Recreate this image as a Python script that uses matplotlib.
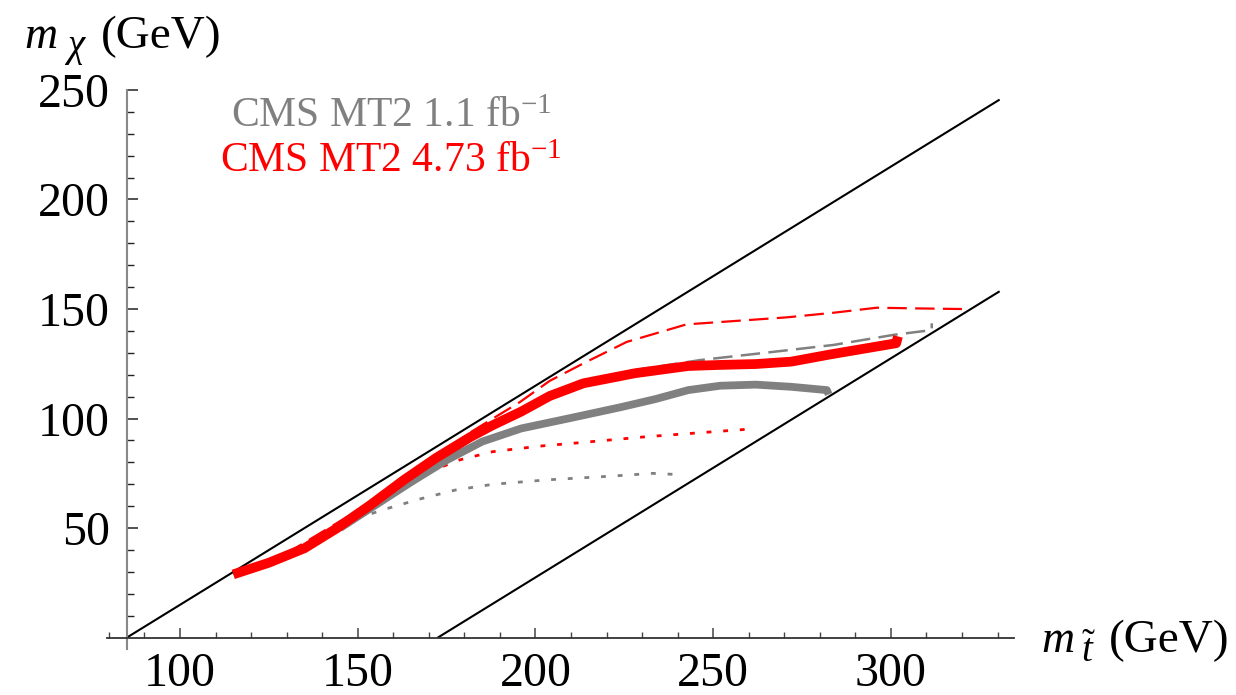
import matplotlib
matplotlib.use('Agg')
import matplotlib.pyplot as plt

plt.rcParams['font.family'] = ['Liberation Serif', 'DejaVu Serif']
plt.rcParams['mathtext.fontset'] = 'custom'
plt.rcParams['mathtext.rm'] = 'Liberation Serif'
plt.rcParams['mathtext.it'] = 'Liberation Serif:italic'
plt.rcParams['lines.scale_dashes'] = False

# ---------------- data ----------------
# CMS MT2 4.73 fb^-1 observed (thick red)
red_obs_x = [115, 125, 135, 144, 153.5, 163, 172, 181.6, 188, 196, 204, 213.5, 228, 243, 252, 262, 272, 283, 301.5, 302]
red_obs_y = [28.9, 34.2, 40.8, 49.8, 60.5, 72, 82, 91.5, 97, 103.2, 110.3, 116.1, 120.7, 124, 124.5, 124.9, 126, 129.3, 134.4, 137.5]
# CMS MT2 4.73 fb^-1 upper band (red dashed)
red_up_x = [115, 130, 150, 165, 175, 181, 188, 195.6, 204, 213.5, 225.7, 242.5, 257.5, 270.7, 283.8, 296, 307, 320]
red_up_y = [29, 38.5, 58, 75, 86, 93, 100, 107.5, 117.2, 125.2, 135, 143, 144.7, 146.2, 148.3, 150.6, 150.3, 150]
# CMS MT2 4.73 fb^-1 lower band (red dotted)
red_dn_x = [125, 145, 160, 169.4, 178.8, 188, 201, 212.5, 231, 250, 259.4]
red_dn_y = [34, 50, 67.5, 75.3, 81.2, 84.9, 87.4, 89, 91.7, 94, 95.1]
# CMS MT2 1.1 fb^-1 observed (thick gray)
gray_obs_x = [145, 155, 165, 175, 185, 196, 210, 224, 234, 243, 252, 262, 272, 282, 282.5]
gray_obs_y = [50, 60.5, 71, 81, 89.5, 95.5, 100.3, 105.2, 109, 113, 115, 115.5, 114.5, 113, 111]
# CMS MT2 1.1 fb^-1 upper band (gray dashed)
gray_up_x = [145, 165, 185, 196, 204, 214, 222, 229.4, 246.3, 265, 283.8, 300.7, 311.5, 311.5]
gray_up_y = [49.5, 72, 93.5, 102.5, 109.5, 115.5, 119.5, 122.5, 126.7, 130.1, 133.6, 138.2, 140.4, 143.5]
# CMS MT2 1.1 fb^-1 lower band (gray dotted)
gray_dn_x = [145, 158, 167.5, 177.5, 188, 203, 222, 233, 239.5]
gray_dn_y = [52, 58.8, 63.3, 67.4, 70, 72, 73.8, 75, 74.5]

# kinematic boundaries m_chi = m_stop - offset
kin_offsets = [85, 172.5]
kin_xmax = 330.6

x_major = [100, 150, 200, 250, 300]
x_minor = [80, 90, 110, 120, 130, 140, 160, 170, 180, 190, 210, 220, 230, 240,
           260, 270, 280, 290, 310, 320, 330]
y_major = [50, 100, 150, 200, 250]
y_minor = [10, 20, 30, 40, 60, 70, 80, 90, 110, 120, 130, 140, 160, 170, 180, 190,
           210, 220, 230, 240]

legend_labels = [r'CMS MT2 1.1 fb$^{-1}$', r'CMS MT2 4.73 fb$^{-1}$']

# ---------------- figure ----------------
W, H = 1236, 695
fig = plt.figure(figsize=(W / 100, H / 100), dpi=100)
ax = fig.add_axes([0, 0, 1, 1])
ax.set_xlim(49.36, 397.1)
ax.set_ylim(-26.16, 291.05)
ax.patch.set_visible(False)

for s in ['top', 'right']:
    ax.spines[s].set_visible(False)
ax.spines['left'].set_position(('data', 85))
ax.spines['bottom'].set_position(('data', 0))
ax.spines['left'].set_bounds(-5, 250)
ax.spines['bottom'].set_bounds(79.5, 334.6)
ax.spines['left'].set_color('#888888')
ax.spines['bottom'].set_color('#333333')
ax.spines['left'].set_linewidth(1.5)
ax.spines['bottom'].set_linewidth(1.3)

ax.set_xticks(x_major, labels=[str(v) for v in x_major])
ax.set_xticks(x_minor, minor=True)
ax.set_yticks(y_major, labels=[str(v) for v in y_major])
ax.set_yticks(y_minor, minor=True)
ax.tick_params(axis='x', which='major', direction='in', length=7.5, width=1.1,
               color='#444444', pad=10, labelsize=34.5)
ax.tick_params(axis='x', which='minor', direction='in', length=4, width=1.0,
               color='#444444')
ax.tick_params(axis='y', which='major', direction='in', length=8, width=1.1,
               color='#222222', pad=12, labelsize=34.5)
ax.tick_params(axis='y', which='minor', direction='in', length=5, width=1.0,
               color='#222222')

# kinematic lines
for off in kin_offsets:
    ax.plot([off, kin_xmax], [0, kin_xmax - off], color='black', lw=1.5,
            solid_capstyle='butt')

gray = '#808080'
red = '#ff0000'
ax.plot(gray_dn_x, gray_dn_y, color=gray, lw=2.0, linestyle=(0, (3.5, 8.5)))
ax.plot(gray_up_x, gray_up_y, color=gray, lw=1.8, linestyle=(0, (14, 6)))
ax.plot(red_dn_x, red_dn_y, color=red, lw=2.0, linestyle=(0, (3.5, 8.5)))
ax.plot(red_up_x, red_up_y, color=red, lw=1.6, linestyle=(0, (14, 6)))
ax.plot(gray_obs_x, gray_obs_y, color=gray, lw=5.6, solid_joinstyle='round',
        solid_capstyle='butt')
ax.plot(red_obs_x, red_obs_y, color=red, lw=7.0, solid_joinstyle='round',
        solid_capstyle='butt')

# legend texts
fig.text(391 / W, 1 - 127 / H, legend_labels[0], color=gray, fontsize=30,
         ha='center', va='baseline')
fig.text(391 / W, 1 - 172 / H, legend_labels[1], color=red, fontsize=30,
         ha='center', va='baseline')

# axis labels
fig.text(24 / W, 1 - 48 / H, 'm', fontsize=33, style='italic', va='baseline')
fig.text(67 / W, 1 - 56 / H, '\u03c7', fontsize=28, style='italic', va='baseline')
fig.text(101 / W, 1 - 48 / H, '(GeV)', fontsize=34, va='baseline')

fig.text(1041 / W, 1 - 652 / H, 'm', fontsize=33, style='italic', va='baseline')
fig.text(1081 / W, 1 - 662 / H, r'$\tilde{t}$', fontsize=28, va='baseline')
fig.text(1109 / W, 1 - 652 / H, '(GeV)', fontsize=34, va='baseline')

fig.savefig('out.png', dpi=100)
